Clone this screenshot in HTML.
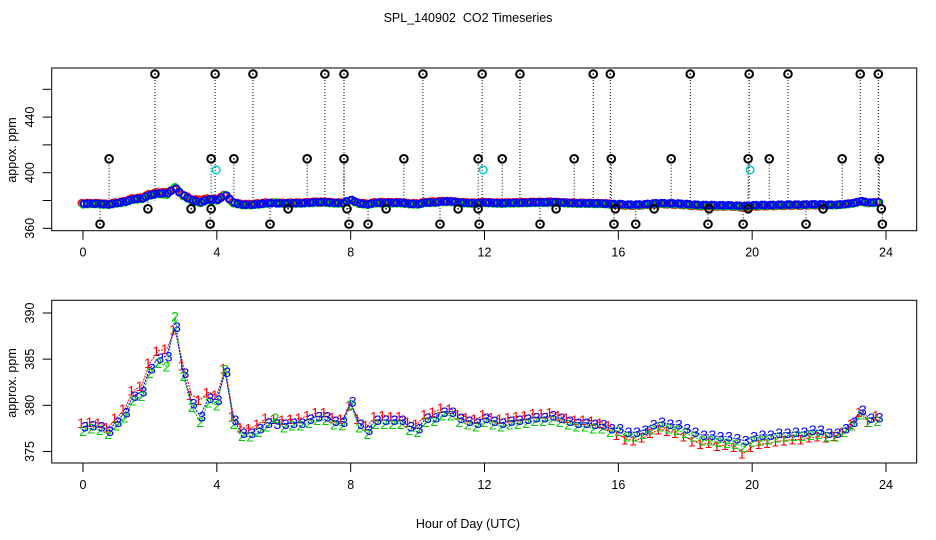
<!DOCTYPE html>
<html><head><meta charset="utf-8"><style>
html,body{margin:0;padding:0;background:#fff;}
svg{display:block;font-family:"Liberation Sans",sans-serif;}
</style></head><body>
<svg id="chart" width="936" height="540" viewBox="0 0 936 540" xmlns="http://www.w3.org/2000/svg">
<rect width="936" height="540" fill="#fff"/>
<text x="468" y="22" font-size="12.5" text-anchor="middle" style="white-space:pre">SPL_140902  CO2 Timeseries</text>
<text x="468" y="528" font-size="12.5" text-anchor="middle">Hour of Day (UTC)</text>
<g id="top"></g>
<g id="bot"></g>
</svg>
<script>
var xTicks=[0,4,8,12,16,20,24];
var topYTicks=[360,380,400,420,440,460];
var topYLabels=[360,400,440];
var botYTicks=[375,380,385,390];
var s1=[378.1,378.2,378.1,377.6,378.6,379.6,381.6,382.1,384.6,385.9,386.1,388.2,384.3,381.1,380.6,381.4,381.1,384.0,378.8,377.6,377.5,378.0,378.6,378.5,378.4,378.5,378.6,378.9,379.2,379.2,378.7,378.5,380.0,378.5,377.8,378.8,378.9,378.8,378.8,378.2,378.0,379.0,379.3,379.7,379.6,379.0,378.7,378.5,379.0,378.7,378.5,378.7,378.8,378.9,379.1,379.1,379.2,378.9,378.6,378.4,378.4,378.3,378.1,377.8,376.8,376.3,376.2,376.5,377.0,377.4,377.2,377.0,376.6,376.1,375.8,375.9,375.6,375.7,375.5,374.8,375.5,375.8,375.9,376.1,376.2,376.3,376.3,376.5,376.6,376.5,376.7,377.1,378.0,379.3,378.2,378.9];
var s2=[377.2,377.5,377.3,376.9,377.8,378.7,380.5,381.0,383.5,384.6,384.2,389.6,383.2,379.8,378.2,380.3,380.0,383.9,378.0,376.7,376.6,377.1,377.7,378.6,377.6,377.8,377.8,378.1,378.4,378.4,377.9,377.8,380.1,377.6,376.9,378.0,378.0,378.0,378.0,377.3,377.1,378.2,378.3,378.9,378.9,378.2,377.9,377.7,378.2,377.9,377.7,377.9,378.0,378.1,378.3,378.3,378.4,378.2,377.9,377.7,377.7,377.5,377.5,377.1,377.2,376.6,376.6,376.9,377.4,377.7,377.5,377.3,377.0,376.6,376.2,376.2,376.0,375.9,375.8,375.5,376.1,376.2,376.3,376.5,376.6,376.7,376.7,376.8,376.9,376.6,376.6,377.1,377.8,379.0,378.2,378.3];
var s3=[377.7,377.8,377.7,377.2,378.2,379.2,381.0,381.5,384.0,385.1,385.3,388.5,383.5,380.2,378.8,380.8,380.6,383.6,378.4,377.0,377.0,377.5,378.1,378.0,378.0,378.1,378.1,378.5,378.8,378.8,378.3,378.2,380.4,378.0,377.3,378.4,378.4,378.4,378.4,377.7,377.5,378.6,378.7,379.3,379.3,378.6,378.3,378.1,378.6,378.3,378.1,378.3,378.4,378.5,378.7,378.7,378.9,378.6,378.3,378.1,378.1,378.0,377.9,377.5,377.5,377.1,377.1,377.3,377.9,378.2,378.0,377.9,377.5,377.1,376.8,376.8,376.6,376.6,376.4,376.2,376.6,376.8,376.8,377.0,377.0,377.1,377.1,377.3,377.3,377.0,377.0,377.5,378.2,379.5,378.6,378.7];
var outHours=[2.15,3.95,5.08,7.23,7.80,10.16,11.93,13.06,15.25,15.76,18.15,19.91,21.07,23.23,23.77,0.78,3.83,4.51,6.70,7.80,9.59,11.81,12.53,14.68,15.79,17.58,19.88,20.51,22.69,23.8,1.94,3.23,3.83,6.13,7.89,9.06,11.21,11.81,14.14,15.91,17.07,18.71,19.88,22.12,23.86,0.51,3.80,5.59,7.95,8.52,10.67,11.84,13.66,15.87,16.52,18.68,19.73,21.61,23.89];
var outVals=[471,471,471,471,471,471,471,471,471,471,471,471,471,471,471,410,410,410,410,410,410,410,410,410,410,410,410,410,410,410,374,374,374,374,374,374,374,374,374,374,374,374,374,374,374,363,363,363,363,363,363,363,363,363,363,363,363,363,363];
var cyanHours=[3.98,11.96,19.94];
var cyanVals=[402,402,402];

var NS="http://www.w3.org/2000/svg";
function mk(parent,tag,attrs){var e=document.createElementNS(NS,tag);for(var k in attrs)e.setAttribute(k,attrs[k]);parent.appendChild(e);return e;}
function xs(h){return 83+(h/24)*(886-83);}
function yTop(v){return 200.5-(v-380)*1.39;}
function yBot(v){return 405.3-(v-380)*9.23;}
function hourOf(i){return i*0.25;}

function frame(g,top,bot,name){
  var r=mk(g,'rect',{x:51.7,y:top,width:865,height:bot-top,fill:'none',stroke:'#000','stroke-width':1});
  
  
  xTicks.forEach(function(t){
    var l=mk(g,'line',{x1:xs(t),x2:xs(t),y1:bot,y2:bot+9,stroke:'#000'});
    
    
    var tx=mk(g,'text',{x:xs(t),y:bot+26,'font-size':12.5,'text-anchor':'middle'});
    tx.textContent=t;
    
    
  });
}
function yLabel(g,v,y,name){
  var tx=mk(g,'text',{x:0,y:0,'font-size':12.5,'text-anchor':'middle',transform:'translate(34,'+y+') rotate(-90)'});
  tx.textContent=v;
  
  
}
// TOP PANEL
var gt=document.getElementById('top');
frame(gt,68,230.7,'top');
topYTicks.forEach(function(v){
  var l=mk(gt,'line',{x1:42.7,x2:51.7,y1:yTop(v),y2:yTop(v),stroke:'#000'});
  
  
});
topYLabels.forEach(function(v){yLabel(gt,v,yTop(v),'top');});
var tt=mk(gt,'text',{x:0,y:0,'font-size':12.5,'text-anchor':'middle',transform:'translate(16,150) rotate(-90)'});
tt.textContent='appox. ppm';


outHours.forEach(function(h,i){
  var v=outVals[i];
  var l=mk(gt,'line',{x1:xs(h),x2:xs(h),y1:yTop(v),y2:yTop(380),stroke:'#000','stroke-width':1,'stroke-dasharray':'1,2'});
  
  
});
[[s1,'#f00'],[s2,'#0c0'],[s3,'#00f']].forEach(function(p,k){
  p[0].forEach(function(v,i){
    var c=mk(gt,'circle',{cx:xs(hourOf(i))+(k-1)*1.2,cy:yTop(v),r:3.4,fill:'none',stroke:p[1],'stroke-width':1.8});
    
    
    if(i<p[0].length-1){
      var c2=mk(gt,'circle',{cx:xs(hourOf(i)+0.125),cy:yTop((v+p[0][i+1])/2),r:3.4,fill:'none',stroke:p[1],'stroke-width':1.8});
      
      
    }
  });
});
outHours.forEach(function(h,i){
  var c=mk(gt,'circle',{cx:xs(h),cy:yTop(outVals[i]),r:3.8,fill:'none',stroke:'#000','stroke-width':2});
  
  
  var d=mk(gt,'circle',{cx:xs(h),cy:yTop(outVals[i]),r:0.8,fill:'#000'});
  
  
});
cyanHours.forEach(function(h,i){
  var c=mk(gt,'circle',{cx:xs(h),cy:yTop(cyanVals[i]),r:3.8,fill:'none',stroke:'#0cc','stroke-width':1.5});
  
  
});
// BOTTOM PANEL
var gb=document.getElementById('bot');
frame(gb,300.3,463,'bottom');
botYTicks.forEach(function(v){
  var l=mk(gb,'line',{x1:42.7,x2:51.7,y1:yBot(v),y2:yBot(v),stroke:'#000'});
  
  
  yLabel(gb,v,yBot(v),'bottom');
});
var bt=mk(gb,'text',{x:0,y:0,'font-size':12.5,'text-anchor':'middle',transform:'translate(16,383) rotate(-90)'});
bt.textContent='approx. ppm';


[[s1,'#f00','1'],[s2,'#0c0','2'],[s3,'#00f','3']].forEach(function(p,k){
  var pts=p[0].map(function(v,i){return xs(hourOf(i))+','+yBot(v);}).join(' ');
  var pl=mk(gb,'polyline',{points:pts,fill:'none',stroke:p[1],'stroke-width':1,'stroke-dasharray':'2,1'});
  
  
  p[0].forEach(function(v,i){
    var t=mk(gb,'text',{x:xs(hourOf(i))+(k-1)*2,y:yBot(v)+5,'font-size':14,fill:p[1],'text-anchor':'middle'});
    t.textContent=p[2];
    
    
  });
});
</script>
</body></html>
